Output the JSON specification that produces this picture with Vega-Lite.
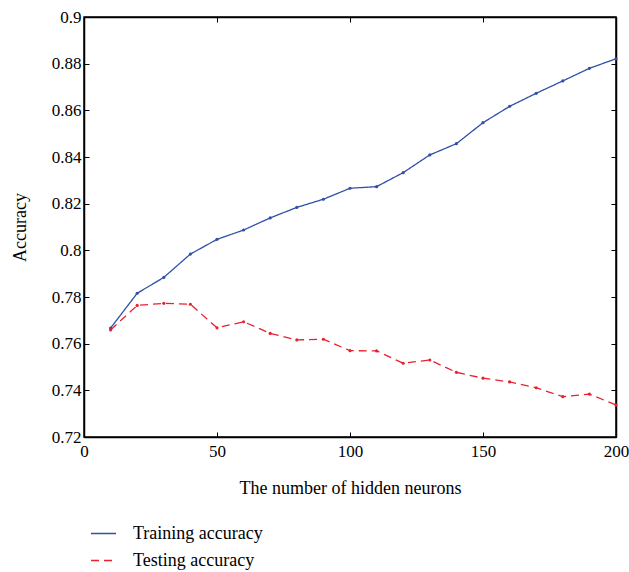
{
  "$schema": "https://vega.github.io/schema/vega-lite/v6.json",
  "autosize": {"type": "none"},
  "width": 532,
  "height": 420,
  "padding": {"left": 84, "top": 17, "right": 13, "bottom": 135},
  "background": "white",
  "config": {
    "font": "Liberation Serif",
    "view": {"stroke": "black", "strokeWidth": 1.5},
    "axis": {"grid": false, "domainColor": "black", "domainWidth": 1.5, "tickColor": "black", "tickSize": -5, "tickWidth": 1, "labelFont": "Liberation Serif", "labelFontSize": 17, "labelColor": "black", "titleFont": "Liberation Serif", "titleFontSize": 18, "titleFontWeight": "normal", "titleColor": "black"}
  },
  "data": {"values": [
    {"n": 10, "acc": 0.7667, "series": "Training accuracy"},
    {"n": 20, "acc": 0.7816, "series": "Training accuracy"},
    {"n": 30, "acc": 0.7884, "series": "Training accuracy"},
    {"n": 40, "acc": 0.7984, "series": "Training accuracy"},
    {"n": 50, "acc": 0.8047, "series": "Training accuracy"},
    {"n": 60, "acc": 0.8087, "series": "Training accuracy"},
    {"n": 70, "acc": 0.8139, "series": "Training accuracy"},
    {"n": 80, "acc": 0.8184, "series": "Training accuracy"},
    {"n": 90, "acc": 0.8219, "series": "Training accuracy"},
    {"n": 100, "acc": 0.8266, "series": "Training accuracy"},
    {"n": 110, "acc": 0.8273, "series": "Training accuracy"},
    {"n": 120, "acc": 0.8333, "series": "Training accuracy"},
    {"n": 130, "acc": 0.8409, "series": "Training accuracy"},
    {"n": 140, "acc": 0.8457, "series": "Training accuracy"},
    {"n": 150, "acc": 0.8547, "series": "Training accuracy"},
    {"n": 160, "acc": 0.8617, "series": "Training accuracy"},
    {"n": 170, "acc": 0.8673, "series": "Training accuracy"},
    {"n": 180, "acc": 0.8726, "series": "Training accuracy"},
    {"n": 190, "acc": 0.878, "series": "Training accuracy"},
    {"n": 200, "acc": 0.8821, "series": "Training accuracy"},
    {"n": 10, "acc": 0.7659, "series": "Testing accuracy"},
    {"n": 20, "acc": 0.7764, "series": "Testing accuracy"},
    {"n": 30, "acc": 0.7773, "series": "Testing accuracy"},
    {"n": 40, "acc": 0.7769, "series": "Testing accuracy"},
    {"n": 50, "acc": 0.7668, "series": "Testing accuracy"},
    {"n": 60, "acc": 0.7694, "series": "Testing accuracy"},
    {"n": 70, "acc": 0.7644, "series": "Testing accuracy"},
    {"n": 80, "acc": 0.7616, "series": "Testing accuracy"},
    {"n": 90, "acc": 0.7619, "series": "Testing accuracy"},
    {"n": 100, "acc": 0.757, "series": "Testing accuracy"},
    {"n": 110, "acc": 0.7569, "series": "Testing accuracy"},
    {"n": 120, "acc": 0.7516, "series": "Testing accuracy"},
    {"n": 130, "acc": 0.753, "series": "Testing accuracy"},
    {"n": 140, "acc": 0.7477, "series": "Testing accuracy"},
    {"n": 150, "acc": 0.7452, "series": "Testing accuracy"},
    {"n": 160, "acc": 0.7436, "series": "Testing accuracy"},
    {"n": 170, "acc": 0.7411, "series": "Testing accuracy"},
    {"n": 180, "acc": 0.7373, "series": "Testing accuracy"},
    {"n": 190, "acc": 0.7384, "series": "Testing accuracy"},
    {"n": 200, "acc": 0.7337, "series": "Testing accuracy"}
  ]},
  "layer": [
    {
      "mark": {"type": "line", "strokeWidth": 1.3, "point": {"filled": true, "size": 10, "strokeDash": [1, 0]}},
      "encoding": {
        "x": {"field": "n", "type": "quantitative", "scale": {"domain": [0, 200], "nice": false}, "axis": {"values": [0, 50, 100, 150, 200], "title": "The number of hidden neurons", "labelPadding": 11, "titlePadding": 20, "labelFlush": false}},
        "y": {"field": "acc", "type": "quantitative", "scale": {"domain": [0.72, 0.9], "nice": false, "zero": false}, "axis": {"values": [0.72, 0.74, 0.76, 0.78, 0.8, 0.82, 0.84, 0.86, 0.88, 0.9], "labelExpr": "format(datum.value, '~g')", "title": "Accuracy", "labelPadding": 8, "titlePadding": 22, "labelFlush": false}},
        "color": {"field": "series", "type": "nominal", "scale": {"domain": ["Training accuracy", "Testing accuracy"], "range": ["#3050a8", "#e8212e"]}, "legend": {"title": null, "orient": "none", "legendX": 6, "legendY": 503, "symbolType": "stroke", "symbolSize": 625, "symbolStrokeWidth": 1.3, "labelFontSize": 18, "labelFont": "Liberation Serif", "labelColor": "black", "rowPadding": 4, "labelOffset": 16}},
        "strokeDash": {"field": "series", "type": "nominal", "scale": {"domain": ["Training accuracy", "Testing accuracy"], "range": [[1, 0], [8, 5]]}, "legend": {"title": null, "orient": "none", "legendX": 6, "legendY": 503, "symbolType": "stroke", "symbolSize": 625, "labelFontSize": 18, "rowPadding": 4, "labelOffset": 16}}
      }
    },
    {
      "mark": {"type": "point", "opacity": 0},
      "encoding": {
        "x": {"field": "n", "type": "quantitative", "axis": {"orient": "top", "values": [0, 50, 100, 150, 200], "labels": false, "title": null}},
        "y": {"field": "acc", "type": "quantitative", "axis": {"orient": "right", "values": [0.72, 0.74, 0.76, 0.78, 0.8, 0.82, 0.84, 0.86, 0.88, 0.9], "labels": false, "title": null}}
      }
    }
  ],
  "resolve": {"axis": {"x": "independent", "y": "independent"}}
}
